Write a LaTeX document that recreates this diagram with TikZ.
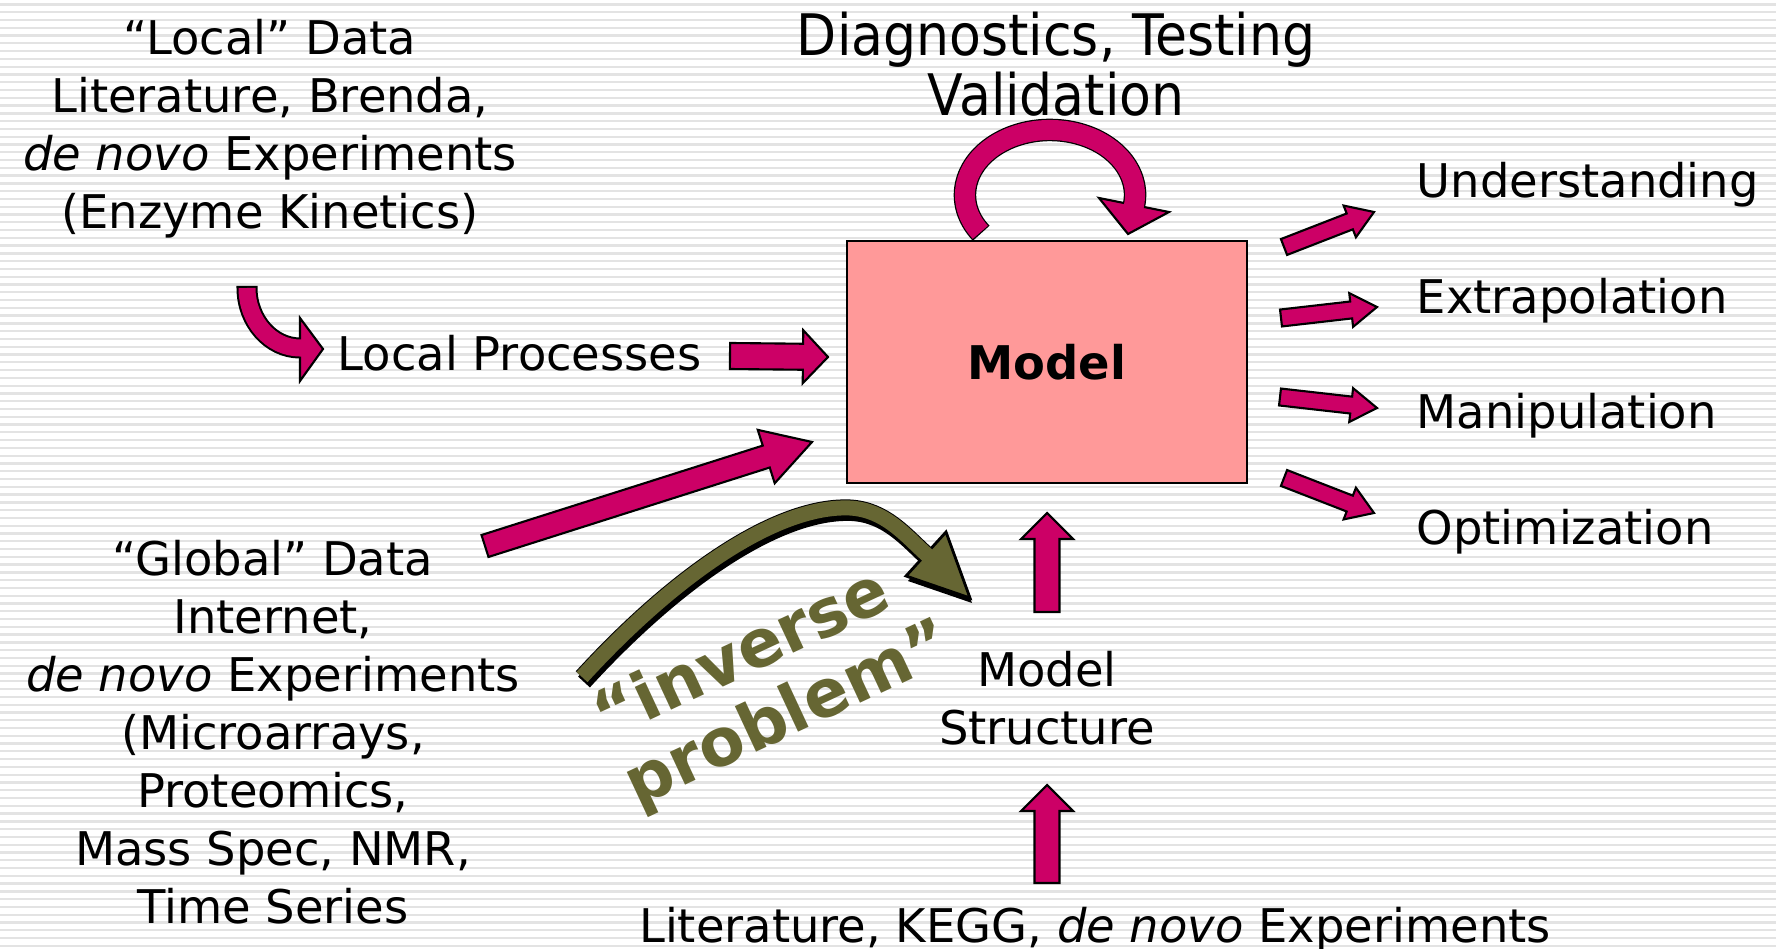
\documentclass[tikz,border=0pt]{standalone}
\usepackage{graphicx}
\usepackage{fontspec}
\setmainfont{DejaVu Sans}
\usetikzlibrary{calc,positioning}

\definecolor{berry}{HTML}{CC0066}
\definecolor{mud}{HTML}{666633}
\definecolor{boxpink}{HTML}{FF9999}

% fat block arrow: tail, tip, half shaft, half head, head length
\newcommand{\fatarrow}[5]{%
  \path ($(#2)!#5!(#1)$) coordinate (hb);
  \draw[blockarrow] ($(#1)!#3!90:(#2)$) -- ($(hb)!#3!-90:(#1)$) -- ($(hb)!#4!-90:(#1)$) -- (#2)
    -- ($(hb)!#4!90:(#1)$) -- ($(hb)!#3!90:(#1)$) -- ($(#1)!#3!-90:(#2)$) -- cycle;}

\begin{document}
\begin{tikzpicture}[x=0.01cm, y=-0.01cm]

  \tikzstyle{txt}=[
      font=\fontsize{13.2}{16.5}\selectfont,
      align=center,
      inner sep=0pt
  ]
  \tikzstyle{blockarrow}=[
      fill=berry,
      draw=black,
      line width=0.6pt
  ]
  \tikzset{stripe/.style={fill=gray!22}}

  % striped background
  \fill[white] (0,0) rectangle (1776,949);
  \foreach \i in {0,...,121}
    \fill[stripe] (0,{3.3+7.78*\i}) rectangle (1776,{5.6+7.78*\i});
  \useasboundingbox (0,0) rectangle (1776,949);

  % texts
  \node[txt] (localdata) at (270,129) {“Local” Data\\Literature, Brenda,\\\textit{de novo} Experiments\\(Enzyme Kinetics)};
  \node[txt, anchor=base west] (localproc) at (337,370) {Local Processes};
  \node[txt] (globaldata) at (273,732) {“Global” Data\\Internet,\\\textit{de novo} Experiments\\(Microarrays,\\Proteomics,\\Mass Spec, NMR,\\Time Series};
  \node[txt, font=\fontsize{14.8}{17.1}\selectfont] (diag) at (1056,64) {\scalebox{1}[1.1]{Diagnostics, Testing}\\\scalebox{1}[1.1]{Validation}};
  \node[draw, fill=boxpink, line width=0.6pt, minimum width=4cm, minimum height=2.42cm,
        font=\fontsize{13.2}{16}\selectfont\bfseries] (model) at (1047,362) {Model};
  \node[txt] (structure) at (1047,698) {Model\\Structure};
  \node[txt, anchor=base] (sources) at (1095,942) {Literature, KEGG, \textit{de novo} Experiments};
  \node[txt, anchor=base west] (underst) at (1416,198) {Understanding};
  \node[txt, anchor=base west] (extra) at (1416,314) {Extrapolation};
  \node[txt, anchor=base west] (manip) at (1416,429) {Manipulation};
  \node[txt, anchor=base west] (optim) at (1416,544) {Optimization};
  \node[font=\fontsize{18.8}{20.8}\selectfont\bfseries, text=mud, align=left, rotate=25, inner sep=0pt]
        (inverse) at (774,683) {“inverse\\problem”};

  % arrow ends
  \coordinate (lpa) at (730,356);  \coordinate (lpb) at (828,357);
  \coordinate (gla) at (485,546);  \coordinate (glb) at (812,442);
  \coordinate (ua) at (1284,247);  \coordinate (ub) at (1374,212);
  \coordinate (ea) at (1281,318);  \coordinate (eb) at (1377,307);
  \coordinate (ma) at (1280,397);  \coordinate (mb) at (1377,408);
  \coordinate (oa) at (1284,478);  \coordinate (ob) at (1374,513);
  \coordinate (sa) at (1047,612);  \coordinate (sb) at (1047,513);
  \coordinate (ka) at (1047,883);  \coordinate (kb) at (1047,785);

  \fatarrow{lpa}{lpb}{0.13cm}{0.265cm}{0.25cm}
  \fatarrow{gla}{glb}{0.115cm}{0.28cm}{0.48cm}
  \fatarrow{ua}{ub}{0.085cm}{0.17cm}{0.26cm}
  \fatarrow{ea}{eb}{0.085cm}{0.17cm}{0.26cm}
  \fatarrow{ma}{mb}{0.085cm}{0.17cm}{0.26cm}
  \fatarrow{oa}{ob}{0.085cm}{0.17cm}{0.26cm}
  \fatarrow{sa}{sb}{0.125cm}{0.26cm}{0.26cm}
  \fatarrow{ka}{kb}{0.125cm}{0.26cm}{0.26cm}

  % bent arrow into local processes
  \coordinate (ca) at (247,288);
  \coordinate (cb) at (300,348);
  \draw[black, line width=0.21cm] (247,286) -- (ca) .. controls (247,321) and (271,348) .. (cb);
  \filldraw[blockarrow] (300,318) -- (323,349) -- (300,381) -- cycle;
  \draw[berry, line width=0.17cm] (ca) .. controls (247,321) and (271,348) .. (cb) -- (303,348);

  % loop over the model
  \coordinate (loopc) at (1050,195);
  \draw[black, line width=0.225cm] ($(loopc)+(216:0.85cm and 0.65cm)$)
      arc[start angle=216, end angle=-9, x radius=0.85cm, y radius=0.65cm];
  \filldraw[blockarrow] (1099,198) -- (1128,234) -- (1169,212) -- cycle;
  \draw[berry, line width=0.2cm] ($(loopc)+(215:0.85cm and 0.65cm)$)
      arc[start angle=215, end angle=-12, x radius=0.85cm, y radius=0.65cm];

  % inverse problem arrow
  \coordinate (ipa) at (582,677);
  \coordinate (ipb) at (926,554);
  \begin{scope}[transform canvas={xshift=0.02cm, yshift=-0.05cm}]
    \draw[black, line width=0.16cm] (ipa) .. controls (680,570) and (780,505) .. (850,508)
        .. controls (885,510) and (905,535) .. (ipb);
    \fill[black] (906,576) -- (970,598) -- (946,532) -- cycle;
  \end{scope}
  \draw[black, line width=0.17cm] (ipa) .. controls (680,570) and (780,505) .. (850,508)
      .. controls (885,510) and (905,535) .. (ipb);
  \filldraw[fill=mud, draw=black, line width=0.8pt] (906,576) -- (970,598) -- (946,532) -- cycle;
  \draw[mud, line width=0.15cm] (ipa) .. controls (680,570) and (780,505) .. (850,508)
      .. controls (885,510) and (905,535) .. (ipb) -- (930,558);

\end{tikzpicture}
\end{document}
